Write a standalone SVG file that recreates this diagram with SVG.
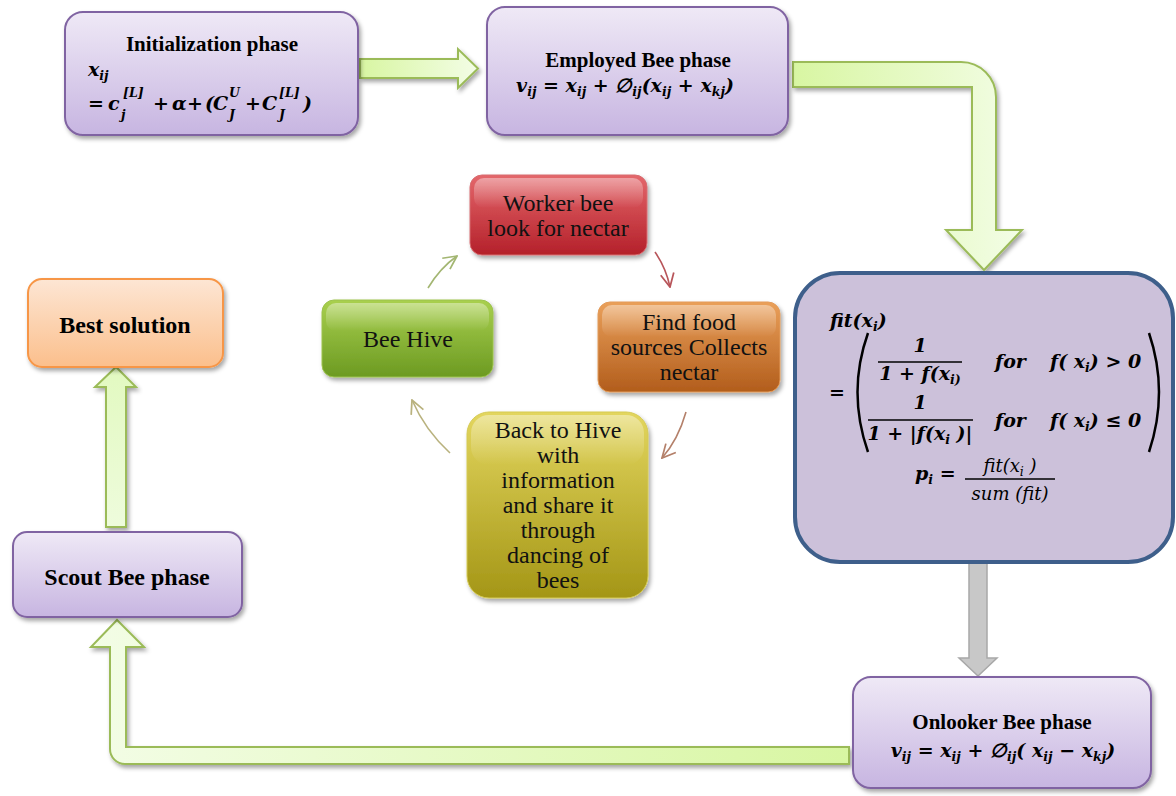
<svg xmlns="http://www.w3.org/2000/svg" width="1176" height="796" viewBox="0 0 1176 796">
<style>
.title{font-family:"Liberation Serif",serif;font-weight:bold;font-size:21px;fill:#000;text-anchor:middle}
.big{font-family:"Liberation Serif",serif;font-weight:bold;font-size:24px;fill:#000;text-anchor:middle}
.m{font-family:"DejaVu Serif",serif;font-weight:bold;font-style:italic;font-size:19px;fill:#000}
.mr{font-family:"DejaVu Serif",serif;font-style:italic;font-size:18px;fill:#000}
.s{font-size:12.5px}
.c{font-family:"Liberation Serif",serif;font-size:24px;fill:#111;text-anchor:middle}
.ph{stroke:#8064a2;stroke-width:2;fill:url(#gPurple)}
.ga{stroke:#9bbb59;stroke-width:2;stroke-linejoin:miter}
.cy{fill:none;stroke-width:1.6}
</style>
<defs>
<linearGradient id="gPurple" x1="0" y1="0" x2="0" y2="1"><stop offset="0" stop-color="#efe9f6"/><stop offset="1" stop-color="#c7b5e1"/></linearGradient>
<linearGradient id="gOrange" x1="0" y1="0" x2="0" y2="1"><stop offset="0" stop-color="#fde6d4"/><stop offset="1" stop-color="#fbbf8c"/></linearGradient>
<linearGradient id="gGreen" x1="0" y1="0" x2="1" y2="0"><stop offset="0" stop-color="#d8f6a2"/><stop offset="1" stop-color="#f3fde6"/></linearGradient>
<linearGradient id="gGreenR" x1="1" y1="0" x2="0" y2="0"><stop offset="0" stop-color="#d8f6a2"/><stop offset="1" stop-color="#f3fde6"/></linearGradient>
<linearGradient id="gGreenV" x1="0" y1="1" x2="0" y2="0"><stop offset="0" stop-color="#eefcdc"/><stop offset="1" stop-color="#e2f9c0"/></linearGradient>
<linearGradient id="gRed" x1="0" y1="0" x2="0" y2="1"><stop offset="0" stop-color="#e4676b"/><stop offset="1" stop-color="#b4202a"/></linearGradient>
<linearGradient id="gOr2" x1="0" y1="0" x2="0" y2="1"><stop offset="0" stop-color="#eaa05a"/><stop offset="1" stop-color="#b25d1c"/></linearGradient>
<linearGradient id="gGr2" x1="0" y1="0" x2="0" y2="1"><stop offset="0" stop-color="#a9d04e"/><stop offset="1" stop-color="#6c9a22"/></linearGradient>
<linearGradient id="gYe" x1="0" y1="0" x2="0" y2="1"><stop offset="0" stop-color="#e3d65e"/><stop offset="1" stop-color="#a49616"/></linearGradient>
<linearGradient id="gGloss" x1="0" y1="0" x2="0" y2="1"><stop offset="0" stop-color="#fff" stop-opacity="0.4"/><stop offset="1" stop-color="#fff" stop-opacity="0"/></linearGradient>
<filter id="sh" x="-10%" y="-10%" width="125%" height="130%"><feDropShadow dx="2" dy="3" stdDeviation="2" flood-color="#000" flood-opacity="0.35"/></filter>
<marker id="mk1" viewBox="0 0 12 12" refX="11" refY="6" markerWidth="16" markerHeight="16" markerUnits="userSpaceOnUse" orient="auto"><path d="M1,1 L11,6 L1,11" fill="none" stroke="#a3b672" stroke-width="1.3"/></marker>
<marker id="mk2" viewBox="0 0 12 12" refX="11" refY="6" markerWidth="16" markerHeight="16" markerUnits="userSpaceOnUse" orient="auto"><path d="M1,1 L11,6 L1,11" fill="none" stroke="#b8555a" stroke-width="1.3"/></marker>
<marker id="mk3" viewBox="0 0 12 12" refX="11" refY="6" markerWidth="16" markerHeight="16" markerUnits="userSpaceOnUse" orient="auto"><path d="M1,1 L11,6 L1,11" fill="none" stroke="#b4806a" stroke-width="1.3"/></marker>
<marker id="mk4" viewBox="0 0 12 12" refX="11" refY="6" markerWidth="16" markerHeight="16" markerUnits="userSpaceOnUse" orient="auto"><path d="M1,1 L11,6 L1,11" fill="none" stroke="#b9b27e" stroke-width="1.3"/></marker>
</defs>
<rect width="1176" height="796" fill="#fff"/>

<g id="connectors">
<path class="ga" fill="url(#gGreen)" filter="url(#sh)" d="M360,59 H458 V49 L478,68.5 L458,88 V78 H360 Z"/>
<path class="ga" fill="url(#gGreen)" filter="url(#sh)" d="M793,62 H961 A35,35 0 0 1 996,97 V230 H1022 L984,270 L946,230 H972 V87 H793 Z"/>
<path fill="#c8c8c8" stroke="#a8a8a8" stroke-width="1.5" d="M969,563 H987 V658 H997 L978,676 L959,658 H969 Z"/>
<path class="ga" fill="url(#gGreenR)" filter="url(#sh)" d="M849,747 H126 V647 H144 L117,620 L91,647 H110 V749 A15,15 0 0 0 125,764 H849 Z"/>
<path class="ga" fill="url(#gGreenV)" filter="url(#sh)" d="M106,527 H126 V387 H136 L116,367 L95,387 H106 Z"/>
<path class="cy" stroke="#a3b672" marker-end="url(#mk1)" d="M428,288 Q440,268 457,256"/>
<path class="cy" stroke="#b8555a" marker-end="url(#mk2)" d="M655,252 Q666,268 670,287"/>
<path class="cy" stroke="#b4806a" marker-end="url(#mk3)" d="M686,412 Q678,440 662,458"/>
<path class="cy" stroke="#b9b27e" marker-end="url(#mk4)" d="M450,453 Q425,430 412,400"/>
</g>

<g id="init">
<rect class="ph" filter="url(#sh)" x="65" y="12" width="293" height="123" rx="18"/>
<text class="title" x="212" y="51">Initialization phase</text>
<text class="m" x="88" y="76">x<tspan class="s" dy="4">ij</tspan></text>
<text class="m" x="88" y="110">=</text>
<text class="m" x="108" y="110">c</text>
<text class="m s" x="121" y="119">j</text>
<text class="m s" x="123" y="97">[L]</text>
<text class="m" x="153" y="110">+</text>
<text class="m" x="172" y="110">α</text>
<text class="m" x="187" y="110">+</text>
<text class="m" x="205" y="110">(</text>
<text class="m" x="213" y="110">C</text>
<text class="m s" x="229" y="119">J</text>
<text class="m s" x="229" y="97">U</text>
<text class="m" x="245" y="110">+</text>
<text class="m" x="262" y="110">C</text>
<text class="m s" x="279" y="119">J</text>
<text class="m s" x="279" y="97">[L]</text>
<text class="m" x="303" y="110">)</text>
</g>

<g id="employed">
<rect class="ph" filter="url(#sh)" x="487" y="7" width="301" height="128" rx="18"/>
<text class="title" x="638" y="67">Employed Bee phase</text>
<text class="m" x="625" y="92" text-anchor="middle">v<tspan class="s" dy="4">ij</tspan><tspan dy="-4"> = x</tspan><tspan class="s" dy="4">ij</tspan><tspan dy="-4"> + ∅</tspan><tspan class="s" dy="4">ij</tspan><tspan dy="-4">(x</tspan><tspan class="s" dy="4">ij</tspan><tspan dy="-4"> + x</tspan><tspan class="s" dy="4">kj</tspan><tspan dy="-4">)</tspan></text>
</g>

<g id="fitness">
<rect x="795" y="273" width="378" height="289" rx="45" fill="#ccc1da" stroke="#3e5f8b" stroke-width="4"/>
<text class="m" x="830" y="327">fit(x<tspan class="s" dy="4">i</tspan><tspan dy="-4">)</tspan></text>
<text class="m" x="829" y="399">=</text>
<path d="M868,333 Q847,392 868,452" fill="none" stroke="#000" stroke-width="2.5"/>
<path d="M1149,333 Q1169,392 1149,452" fill="none" stroke="#000" stroke-width="2.5"/>
<text class="m" x="920" y="352" text-anchor="middle">1</text>
<line x1="878" y1="362" x2="962" y2="362" stroke="#000" stroke-width="1.5"/>
<text class="m" x="920" y="380" text-anchor="middle">1 + f(x<tspan class="s" dy="4">i)</tspan></text>
<text class="m" x="995" y="368">for</text>
<text class="m" x="1050" y="368">f( x<tspan class="s" dy="4">i</tspan><tspan dy="-4">) &gt; 0</tspan></text>
<text class="m" x="920" y="409" text-anchor="middle">1</text>
<line x1="868" y1="420" x2="973" y2="420" stroke="#000" stroke-width="1.5"/>
<text class="m" x="920" y="440" text-anchor="middle">1 + |f(x<tspan class="s" dy="4">i</tspan><tspan dy="-4"> )|</tspan></text>
<text class="m" x="995" y="427">for</text>
<text class="m" x="1050" y="427">f( x<tspan class="s" dy="4">i</tspan><tspan dy="-4">) ≤ 0</tspan></text>
<text class="m" x="915" y="480">p<tspan class="s" dy="4">i</tspan><tspan dy="-4"> =</tspan></text>
<line x1="965" y1="479" x2="1055" y2="479" stroke="#000" stroke-width="1.3"/>
<text class="mr" x="1010" y="472" text-anchor="middle">fit(x<tspan class="s" dy="4">i</tspan><tspan dy="-4">  )</tspan></text>
<text class="mr" x="1010" y="500" text-anchor="middle">sum (fit)</text>
</g>

<g id="onlooker">
<rect class="ph" filter="url(#sh)" x="853" y="677" width="298" height="111" rx="18"/>
<text class="title" x="1002" y="729">Onlooker Bee phase</text>
<text class="m" x="1003" y="757" text-anchor="middle">v<tspan class="s" dy="4">ij</tspan><tspan dy="-4"> = x</tspan><tspan class="s" dy="4">ij</tspan><tspan dy="-4"> +  ∅</tspan><tspan class="s" dy="4">ij</tspan><tspan dy="-4">(  x</tspan><tspan class="s" dy="4">ij</tspan><tspan dy="-4"> − x</tspan><tspan class="s" dy="4">kj</tspan><tspan dy="-4">)</tspan></text>
</g>

<g id="best">
<rect filter="url(#sh)" x="28" y="279" width="195" height="88" rx="14" fill="url(#gOrange)" stroke="#f79646" stroke-width="2"/>
<text class="big" x="125" y="333">Best solution</text>
</g>

<g id="scout">
<rect class="ph" filter="url(#sh)" x="13" y="532" width="229" height="85" rx="14"/>
<text class="big" x="127" y="585">Scout Bee phase</text>
</g>

<g id="worker">
<rect filter="url(#sh)" x="470" y="175" width="177" height="80" rx="12" fill="url(#gRed)" stroke="#d66c70" stroke-width="1"/>
<rect x="474" y="178" width="169" height="30" rx="10" fill="url(#gGloss)"/>
<text class="c" x="558" y="211">Worker bee</text>
<text class="c" x="558" y="236">look for nectar</text>
</g>

<g id="find">
<rect filter="url(#sh)" x="598" y="302" width="182" height="90" rx="12" fill="url(#gOr2)" stroke="#e29b5a" stroke-width="1"/>
<rect x="602" y="305" width="174" height="32" rx="10" fill="url(#gGloss)"/>
<text class="c" x="689" y="330">Find food</text>
<text class="c" x="689" y="355">sources Collects</text>
<text class="c" x="689" y="380">nectar</text>
</g>

<g id="hive">
<rect filter="url(#sh)" x="322" y="300" width="171" height="77" rx="12" fill="url(#gGr2)" stroke="#9cc24d" stroke-width="1"/>
<rect x="326" y="303" width="163" height="28" rx="10" fill="url(#gGloss)"/>
<text class="c" x="408" y="347">Bee Hive</text>
</g>

<g id="back">
<rect filter="url(#sh)" x="467" y="412" width="181" height="186" rx="22" fill="url(#gYe)" stroke="#d5ca55" stroke-width="1"/>
<rect x="471" y="415" width="173" height="50" rx="18" fill="url(#gGloss)"/>
<text class="c" x="558" y="438">Back to Hive</text>
<text class="c" x="558" y="463">with</text>
<text class="c" x="558" y="488">information</text>
<text class="c" x="558" y="513">and share it</text>
<text class="c" x="558" y="538">through</text>
<text class="c" x="558" y="563">dancing of</text>
<text class="c" x="558" y="588">bees</text>
</g>
</svg>
